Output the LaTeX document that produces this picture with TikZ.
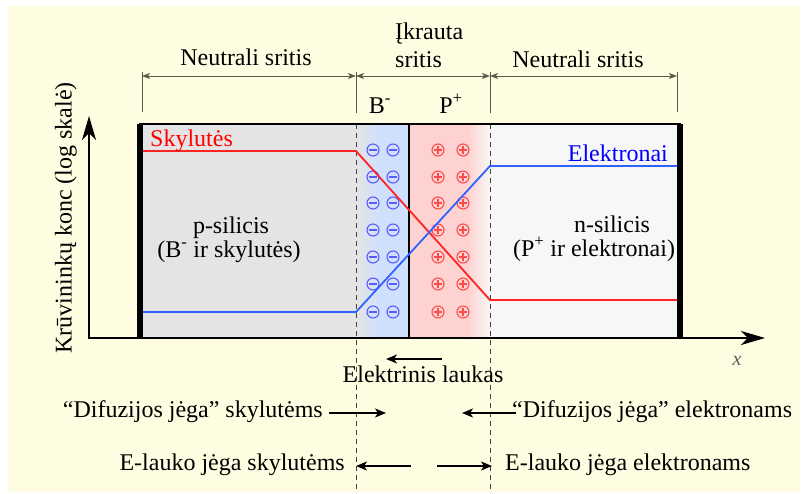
\documentclass[tikz,border=0pt]{standalone}
\usepackage{fontspec}
\setmainfont{Liberation Serif}
\usetikzlibrary{arrows.meta}
\definecolor{cream}{HTML}{FEFDE2}
\definecolor{grayreg}{HTML}{E4E4E4}
\definecolor{bluereg}{HTML}{CFE0FF}
\definecolor{pinkreg}{HTML}{FFD2D2}
\definecolor{rightreg}{HTML}{F7F7F7}
\definecolor{dimc}{HTML}{5A5A4A}
\definecolor{ionneg}{HTML}{5A5AFF}
\definecolor{ionpos}{HTML}{FF4A4A}
\definecolor{holec}{HTML}{FF2424}
\definecolor{elc}{HTML}{2F62FF}
\begin{document}
\begin{tikzpicture}[x=1pt,y=-1pt,
  lbl/.style={inner sep=0pt,font=\fontsize{24}{28}\selectfont},
  dimline/.style={draw=dimc,line width=0.9pt},
  dimarrow/.style={dimc,line width=0.9pt,{Stealth[length=8pt,width=6pt,inset=2pt]}-{Stealth[length=8pt,width=6pt,inset=2pt]}},
  axisarrow/.style={black,line width=2.2pt,-{Stealth[length=24pt,width=14pt,inset=7pt]}},
  forcearrow/.style={black,line width=1.8pt,-{Stealth[length=11pt,width=9pt,inset=3pt]}},
  sepdash/.style={draw=black!75,line width=0.9pt,dash pattern=on 5pt off 4pt},
  negion/.style={circle,draw=ionneg,line width=1.1pt,minimum size=12pt,inner sep=0pt,
    path picture={\draw[ionneg,line width=1.1pt] ([xshift=-4pt]path picture bounding box.center) -- ([xshift=4pt]path picture bounding box.center);}},
  posion/.style={circle,draw=ionpos,line width=1.1pt,minimum size=12pt,inner sep=0pt,
    path picture={\draw[ionpos,line width=1.1pt] ([xshift=-4pt]path picture bounding box.center) -- ([xshift=4pt]path picture bounding box.center)
      ([yshift=-4pt]path picture bounding box.center) -- ([yshift=4pt]path picture bounding box.center);}},
  carrier/.style={line width=1.8pt}
]
\useasboundingbox (0,0) rectangle (803,493);
\fill[cream] (8,6) rectangle (800,492);

% region fills
\fill[grayreg] (142,124) rectangle (356,338);
\shade[left color=grayreg,right color=bluereg] (356,124) rectangle (380,338);
\fill[bluereg] (380,124) rectangle (409,338);
\fill[pinkreg] (409,124) rectangle (468,338);
\shade[left color=pinkreg,right color=rightreg] (468,124) rectangle (490,338);
\fill[rightreg] (490,124) rectangle (680,338);

% ions
\foreach \yy [count=\r] in {150,177,203,230,257,284,312}{
  \node[negion] (neg-\r-a) at (373,\yy) {};
  \node[negion] (neg-\r-b) at (393,\yy) {};
  \node[posion] (pos-\r-a) at (438,\yy) {};
  \node[posion] (pos-\r-b) at (463,\yy) {};
}

% separators
\draw[sepdash] (356,124) -- (356,493);
\draw[sepdash] (490,124) -- (490,493);
\draw[line width=1.2pt] (409,124) -- (409,338);

% carrier curves
\coordinate (h0) at (142,151);
\coordinate (h1) at (356,151);
\coordinate (h2) at (490,300);
\coordinate (h3) at (677,300);
\coordinate (e0) at (142,312);
\coordinate (e1) at (356,312);
\coordinate (e2) at (490,166);
\coordinate (e3) at (677,166);
\draw[carrier,holec] (h0) -- (h1) -- (h2) -- (h3);
\draw[carrier,elc] (e0) -- (e1) -- (e2) -- (e3);

% box
\draw[line width=1.6pt] (140,124) rectangle (680,338);
\fill[black] (137,124) rectangle (143,338);
\fill[black] (677,124) rectangle (683,338);

% axes
\coordinate (origin) at (89,338);
\coordinate (ytip) at (89,116);
\coordinate (xorigin) at (88,338);
\coordinate (xtip) at (765,338);
\draw[axisarrow] (origin) -- (ytip);
\draw[axisarrow] (xorigin) -- (xtip);
\node[inner sep=0pt,font=\fontsize{20}{24}\selectfont\itshape,text=black!65] (xlab) at (737,361) {x};
\node[lbl,rotate=90] (ylab) at (66,218) {Krūvininkų konc (log skalė)};

% dimension lines
\coordinate (t1a) at (142,72); \coordinate (t1b) at (142,112);
\coordinate (t2a) at (356,72); \coordinate (t2b) at (356,113);
\coordinate (t3a) at (490,72); \coordinate (t3b) at (490,113);
\coordinate (t4a) at (677,72); \coordinate (t4b) at (677,112);
\draw[dimline] (t1a) -- (t1b);
\draw[dimline] (t2a) -- (t2b);
\draw[dimline] (t3a) -- (t3b);
\draw[dimline] (t4a) -- (t4b);
\coordinate (d1) at (142,76);
\coordinate (d2) at (356,76);
\coordinate (d3) at (490,76);
\coordinate (d4) at (677,76);
\draw[dimarrow] (d1) -- (d2);
\draw[dimarrow] (d2) -- (d3);
\draw[dimarrow] (d3) -- (d4);

% top labels
\node[lbl,anchor=base] (neutL) at (246,65) {Neutrali sritis};
\node[lbl,anchor=base west] (ikr1) at (395,39) {Įkrauta};
\node[lbl,anchor=base west] (ikr2) at (395,67) {sritis};
\node[lbl,anchor=base] (neutR) at (578,67) {Neutrali sritis};
\node[lbl,anchor=base] (bion) at (380,113) {B\textsuperscript{-}};
\node[lbl,anchor=base] (pion) at (451,113) {P\textsuperscript{+}};

% inside labels
\node[lbl,anchor=base west,text=red] (hlab) at (150,146) {Skylutės};
\node[lbl,anchor=base east,text=blue] (elab) at (668,161) {Elektronai};
\node[lbl,anchor=base] (psi1) at (231,233) {p-silicis};
\node[lbl,anchor=base] (psi2) at (229,257) {(B\textsuperscript{-} ir skylutės)};
\node[lbl,anchor=base] (nsi1) at (612,232) {n-silicis};
\node[lbl,anchor=base] (nsi2) at (594,256) {(P\textsuperscript{+} ir elektronai)};

% electric field
\node[lbl,anchor=base] (efield) at (423,382) {Elektrinis laukas};
\coordinate (ef0) at (442,359);
\coordinate (ef1) at (386,359);
\draw[forcearrow] (ef0) -- (ef1);

% forces
\node[lbl,anchor=base east] (difh) at (323,417) {“Difuzijos jėga” skylutėms};
\coordinate (dh0) at (329,413);
\coordinate (dh1) at (386,413);
\draw[forcearrow] (dh0) -- (dh1);
\node[lbl,anchor=base west] (dife) at (512,417) {“Difuzijos jėga” elektronams};
\coordinate (de0) at (516,413);
\coordinate (de1) at (462,413);
\draw[forcearrow] (de0) -- (de1);
\node[lbl,anchor=base east] (elh) at (345,470) {E-lauko jėga skylutėms};
\coordinate (eh0) at (411,466);
\coordinate (eh1) at (356,466);
\draw[forcearrow] (eh0) -- (eh1);
\node[lbl,anchor=base west] (ele) at (505,470) {E-lauko jėga elektronams};
\coordinate (ee0) at (437,466);
\coordinate (ee1) at (492,466);
\draw[forcearrow] (ee0) -- (ee1);
\end{tikzpicture}
\end{document}
